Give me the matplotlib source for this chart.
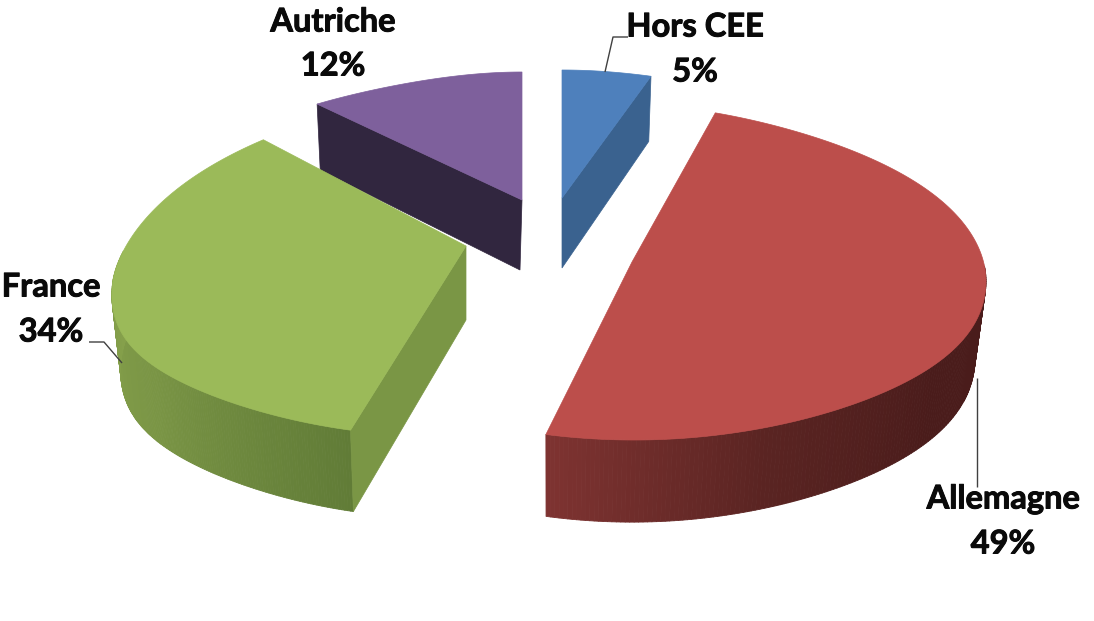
import numpy as np
import matplotlib
matplotlib.use('Agg')
import matplotlib.pyplot as plt
import matplotlib.patheffects as pe
from matplotlib.collections import PolyCollection
from matplotlib.colors import to_rgb
from matplotlib.patches import Polygon

categories = ['Hors CEE', 'Allemagne', 'France', 'Autriche']
shares = [5, 49, 34, 12]

top_colors = ['#4E80BC', '#BC4E4B', '#9BBA59', '#7E609C']
cut_colors = ['#3A628F', None, '#7A9645', '#31263F']
# arc gradient stops, from the clockwise start of the slice to its end
arc_colors = [None, ['#4A1C1B', '#4A1C1B', '#5A2422', '#7E3331'], ['#617C37', '#7A9545', '#87A24C'], None]

# apex x, y, rx, squeeze at the back, ry back, ry front, bulge, lean, depth, bottom x shift
layout = {
    'Hors CEE': (562, 198, 340, 0.187, 128, 128, 0, 0, 70, 0),
    'Allemagne': (632, 262, 354, 0.27, 157, 178, 18, -2, 75, -2),
    'France': (466, 246, 353, 0.266, 156, 190, 34, 28.6, 74, 0),
    'Autriche': (522, 200, 316, 0.187, 128, 128, -12, 0, 70, -2),
}
TAPER_X = 0.975
TAPER_Y = 1.04

label_pos = {
    'Hors CEE': (695, 27, 72),
    'Allemagne': (1003, 499, 544),
    'France': (51, 287, 332),
    'Autriche': (333, 22, 66),
}
leaders = [
    ([628, 613, 605], [37, 37, 72]),
    ([89, 104, 122], [342, 342, 363]),
    ([977, 977], [378, 487]),
]

DPI = 100
fig = plt.figure(figsize=(1094 / DPI, 621 / DPI), dpi=DPI)
ax = fig.add_axes([0, 0, 1, 1])
ax.set_xlim(0, 1094)
ax.set_ylim(621, 0)
ax.axis('off')


def rim(theta, lay):
    _, _, rx, kx, ryf, ryn, bulge, lean, _, _ = lay
    t = np.radians(theta)
    s, c = np.sin(t), np.cos(t)
    dx = rx * s * (1 - kx * np.clip(c, 0, None) ** 4) + lean * c
    dy = -c * np.where(c > 0, ryf, ryn) + bulge * s ** 4
    return dx, dy


def bottom(dx, dy, lay):
    return lay[0] + lay[9] + dx * TAPER_X, lay[1] + lay[8] + dy * TAPER_Y


def blend(stops, u):
    rgb = np.array([to_rgb(c) for c in stops])
    pos = np.linspace(0, 1, len(stops))
    return np.column_stack([np.interp(u, pos, rgb[:, i]) for i in range(3)])


def draw_slice(name, start, stop, top_col, cut_col, arc_col):
    lay = layout[name]
    cx, cy = lay[0], lay[1]
    theta = np.linspace(start, stop, 240)
    dx, dy = rim(theta, lay)

    # outer wall, only the part turned to the viewer
    if arc_col is not None:
        vis = (theta > 85) & (theta < 280)
        ex, ey = dx[vis], dy[vis]
        bx, by = bottom(ex, ey, lay)
        strips = []
        for i in range(len(ex) - 1):
            strips.append([(cx + ex[i], cy + ey[i]), (cx + ex[i + 1], cy + ey[i + 1]),
                           (bx[i + 1], by[i + 1]), (bx[i], by[i])])
        cols = blend(arc_col, np.linspace(0, 1, len(strips)))
        ax.add_collection(PolyCollection(strips, facecolors=cols, edgecolors=cols, linewidths=0.6))

    # cut face running from the apex to the end of the slice
    if cut_col is not None:
        side = stop if name == 'Hors CEE' else start
        ex, ey = rim(np.array([side]), lay)
        ax0, ay0 = bottom(0.0, 0.0, lay)
        bx, by = bottom(ex[0], ey[0], lay)
        ax.add_patch(Polygon([(cx, cy), (cx + ex[0], cy + ey[0]), (bx, by), (ax0, ay0)],
                             closed=True, fc=cut_col, ec=cut_col, lw=0.5))

    pts = np.column_stack([np.r_[cx, cx + dx], np.r_[cy, cy + dy]])
    ax.add_patch(Polygon(pts, closed=True, fc=top_col, ec=top_col, lw=0.5))


edges = np.cumsum([0] + shares) / sum(shares) * 360
for i in [3, 0, 2, 1]:
    draw_slice(categories[i], edges[i], edges[i + 1], top_colors[i], cut_colors[i], arc_colors[i])

for xs, ys in leaders:
    ax.plot(xs, ys, color='#404040', lw=1.0, solid_capstyle='butt')

# the reference text is heavier than Lato Bold, so thicken it a little
heavy = [pe.withStroke(linewidth=0.7, foreground='#0A0A0A')]
for name, share in zip(categories, shares):
    x, y1, y2 = label_pos[name]
    ax.text(x, y1, name, ha='center', va='center', fontsize=23.5, fontweight='bold',
            family='Lato', color='#0A0A0A', path_effects=heavy)
    ax.text(x, y2, f'{share}%', ha='center', va='center', fontsize=23.5, fontweight='bold',
            family='Lato', color='#0A0A0A', path_effects=heavy)

fig.savefig('out.png', dpi=DPI, facecolor='white')
